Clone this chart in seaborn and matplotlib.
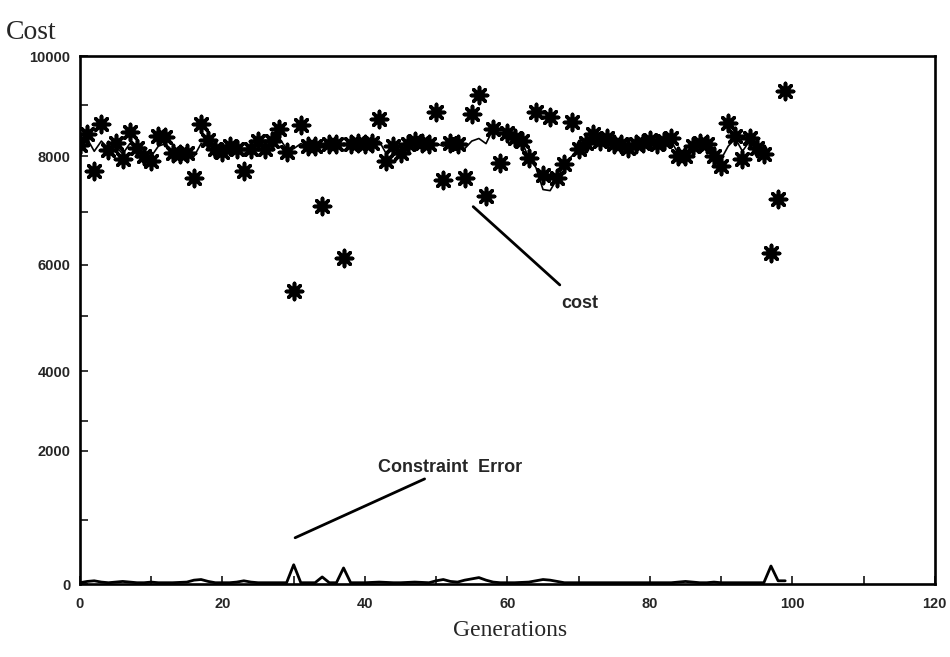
import numpy as np
import pandas as pd
import matplotlib
matplotlib.use("Agg")
import matplotlib.pyplot as plt
import seaborn as sns

# ---- data ----
generations = list(range(0, 100))
cost_points = [8220, 8430, 7730, 8640, 8120, 8260, 7950, 8470, 8160, 8010,
               7920, 8390, 8370, 8070, 8050, 8070, 7600, 8640, 8330, 8140,
               8090, 8200, 8140, 7730, 8140, 8300, 8140, 8300, 8540, 8090,
               5490, 8620, 8200, 8200, 7100, 8240, 8240, 6120, 8240, 8260,
               8240, 8260, 8730, 7920, 8200, 8070, 8240, 8300, 8260, 8240,
               8860, 7580, 8260, 8240, 7600, 8830, 9200, 7290, 8540, 7880,
               8450, 8350, 8300, 7970, 8860, 7670, 8770, 7600, 7860, 8670,
               8140, 8260, 8430, 8300, 8350, 8240, 8240, 8160, 8240, 8260,
               8330, 8240, 8300, 8350, 8010, 8010, 8200, 8260, 8240, 8010,
               7820, 8660, 8390, 7950, 8350, 8160, 8050, 6230, 7220, 9280]

line_gens = list(range(0, 97))
cost_line = [8200, 8350, 8100, 8300, 8150, 8200, 8050, 8250, 8150, 8050,
             8000, 8200, 8250, 8100, 8050, 8050, 8000, 8250, 8200, 7980,
             8050, 8150, 8150, 8050, 8150, 8250, 8200, 8250, 8350, 8150,
             8150, 8250, 8200, 8200, 8200, 8230, 8230, 8230, 8240, 8250,
             8240, 8250, 8300, 8050, 8150, 8100, 8220, 8280, 8260, 8240,
             8250, 8200, 8250, 8240, 8150, 8300, 8350, 8250, 8540, 8450,
             8380, 8350, 8300, 7970, 7800, 7400, 7380, 7600, 7860, 8000,
             8140, 8260, 8430, 8300, 8330, 8240, 8240, 8160, 8240, 8260,
             8330, 8240, 8300, 8300, 8050, 8030, 8180, 8250, 8240, 8050,
             7950, 8200, 8350, 8100, 8300, 8160, 8050]

constraint_error = [20, 40, 50, 30, 20, 30, 40, 30, 20, 20,
                    30, 20, 20, 20, 25, 30, 60, 70, 40, 20,
                    20, 20, 30, 50, 30, 20, 20, 20, 20, 20,
                    300, 20, 20, 20, 110, 20, 20, 250, 20, 20,
                    20, 25, 30, 25, 20, 20, 25, 30, 25, 20,
                    50, 70, 40, 30, 60, 80, 100, 60, 30, 20,
                    20, 20, 25, 30, 50, 70, 60, 40, 20, 20,
                    20, 20, 20, 20, 20, 20, 20, 20, 20, 20,
                    20, 20, 20, 20, 30, 40, 30, 20, 20, 30,
                    20, 20, 20, 20, 20, 20, 20, 280, 50, 50]

x_ticks = [0, 20, 40, 60, 80, 100, 120]
y_ticks = [0, 2000, 4000, 6000, 8000, 10000]

# the printed y axis of the scanned figure is not evenly spaced;
# knots of value -> relative height
y_knot_vals = [0, 1000, 2000, 3000, 4000, 5000, 6000, 7000, 8000, 9000, 10000]
y_knot_pos = [0, 64, 133, 162, 212, 267, 318, 371, 426, 477, 526]


def fwd(v):
    return np.interp(v, y_knot_vals, y_knot_pos)


def inv(p):
    return np.interp(p, y_knot_pos, y_knot_vals)


df_pts = pd.DataFrame({"gen": generations, "cost": cost_points})
df_line = pd.DataFrame({"gen": line_gens, "cost": cost_line})
df_err = pd.DataFrame({"gen": generations, "err": constraint_error})

sns.set_style("ticks")
plt.rcParams["font.family"] = ["Liberation Sans", "DejaVu Sans"]

fig = plt.figure(figsize=(9.5, 6.57), dpi=100)
ax = fig.add_axes([0.0842, 0.1111, 0.8998, 0.8036])
ax.set_yscale("function", functions=(fwd, inv))

sns.lineplot(data=df_line, x="gen", y="cost", ax=ax, color="black", lw=1.2)
sns.lineplot(data=df_err, x="gen", y="err", ax=ax, color="black", lw=2.0)
sns.scatterplot(data=df_pts, x="gen", y="cost", ax=ax, marker=(8, 2, 0),
                s=135, color="black", linewidth=2.6, edgecolor="black", zorder=5)

ax.set_xlim(0, 120)
ax.set_ylim(0, 10000)
ax.set_xticks(x_ticks)
ax.set_yticks(y_ticks)
ax.set_yticklabels([str(v) for v in y_ticks])
ax.set_xticks(range(0, 121, 10), minor=True)
ax.set_yticks(range(0, 10001, 1000), minor=True)
ax.tick_params(which="both", direction="in", length=6, width=1.3,
               top=False, right=False)
ax.tick_params(axis="both", labelsize=10.5)
ax.tick_params(axis="x", pad=9)
ax.tick_params(axis="y", pad=7)
for lab in ax.get_xticklabels() + ax.get_yticklabels():
    lab.set_fontweight("bold")
for sp in ax.spines.values():
    sp.set_visible(True)
    sp.set_linewidth(1.9)
    sp.set_color("black")

ax.set_xlabel("")
ax.set_ylabel("")
fig.text(0.537, 0.040, "Generations", family=["Liberation Serif"], fontsize=17,
         ha="center", va="center")
fig.text(0.006, 0.950, "Cost", family=["Liberation Serif"], fontsize=20,
         ha="left", va="center")

# annotations
ax.annotate("cost", xy=(55.2, 7090), xytext=(70.2, 5250),
            fontsize=13, fontweight="bold", ha="center", va="center",
            arrowprops=dict(arrowstyle="-", color="black", lw=2.0,
                            shrinkA=7, shrinkB=0))
ax.annotate("Constraint  Error", xy=(30.2, 720), xytext=(41.9, 1760),
            fontsize=13, fontweight="bold", ha="left", va="center",
            arrowprops=dict(arrowstyle="-", color="black", lw=2.0,
                            shrinkA=0, shrinkB=0))

fig.savefig("out.png", dpi=100)
